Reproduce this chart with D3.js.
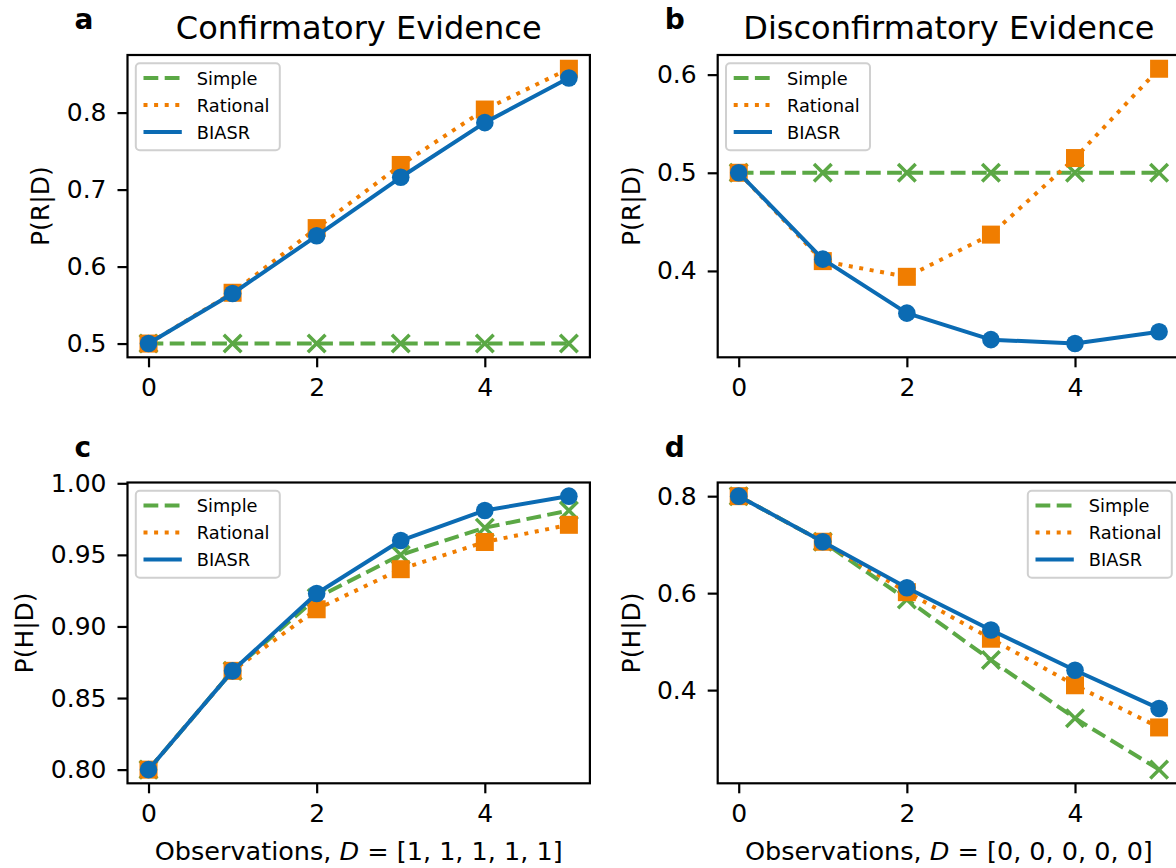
<!DOCTYPE html>
<html>
<head>
<meta charset="utf-8">
<script src="https://cdn.jsdelivr.net/npm/d3@7"></script>
<style>
  html, body { margin: 0; padding: 0; background: #fff; overflow: hidden; }
  svg { display: block; font-family: "DejaVu Sans", sans-serif; }
</style>
</head>
<body>
<svg id="chart" width="1176" height="868"></svg>
<script>
// ---------------- data ----------------
const observations = [0, 1, 2, 3, 4, 5];
const seriesNames = ["Simple", "Rational", "BIASR"];

const simpleA   = [0.500, 0.500, 0.500, 0.500, 0.500, 0.500];
const rationalA = [0.500, 0.566, 0.650, 0.732, 0.804, 0.857];
const biasrA    = [0.500, 0.565, 0.640, 0.716, 0.787, 0.845];

const simpleB   = [0.500, 0.500, 0.500, 0.500, 0.500, 0.500];
const rationalB = [0.500, 0.410, 0.394, 0.437, 0.515, 0.606];
const biasrB    = [0.500, 0.412, 0.357, 0.330, 0.326, 0.338];

const simpleC   = [0.800, 0.869, 0.920, 0.950, 0.969, 0.981];
const rationalC = [0.800, 0.869, 0.912, 0.940, 0.959, 0.971];
const biasrC    = [0.800, 0.869, 0.923, 0.960, 0.981, 0.991];

const simpleD   = [0.800, 0.706, 0.587, 0.462, 0.342, 0.236];
const rationalD = [0.800, 0.706, 0.602, 0.506, 0.410, 0.323];
const biasrD    = [0.800, 0.706, 0.611, 0.524, 0.441, 0.362];

const xTickValues = [0, 2, 4];
const yTicksA = [0.5, 0.6, 0.7, 0.8];
const yTicksB = [0.4, 0.5, 0.6];
const yTicksC = [0.80, 0.85, 0.90, 0.95, 1.00];
const yTicksD = [0.4, 0.6, 0.8];

const titles = ["Confirmatory Evidence", "Disconfirmatory Evidence"];
const letters = ["a", "b", "c", "d"];
const yLabels = ["P(R|D)", "P(R|D)", "P(H|D)", "P(H|D)"];
const xLabelSeqs = ["[1, 1, 1, 1, 1]", "[0, 0, 0, 0, 0]"];

// ---------------- style ----------------
const colors = { Simple: "#5ba845", Rational: "#f07d00", BIASR: "#0b6bb3" };
const dashes = { Simple: "14.8,6.4", Rational: "4,6.6", BIASR: null };
const markers = { Simple: "x", Rational: "square", BIASR: "circle" };

const svg = d3.select("#chart");

const colLeft = [127.5, 717.7];
const axW = 462.4;
const rowTop = [55, 482.5];
const rowH = [302.3, 300.8];

const panels = [
  { data: [simpleA, rationalA, biasrA], ticks: yTicksA, fmt: ".1f", col: 0, row: 0, legend: "left", ylabOff: 78.7 },
  { data: [simpleB, rationalB, biasrB], ticks: yTicksB, fmt: ".1f", col: 1, row: 0, legend: "left", ylabOff: 77.7 },
  { data: [simpleC, rationalC, biasrC], ticks: yTicksC, fmt: ".2f", col: 0, row: 1, legend: "left", ylabOff: 94.7 },
  { data: [simpleD, rationalD, biasrD], ticks: yTicksD, fmt: ".1f", col: 1, row: 1, legend: "right", ylabOff: 77.7 }
];

panels.forEach((p, i) => {
  const L = colLeft[p.col], T = rowTop[p.row], H = rowH[p.row];
  const g = svg.append("g").attr("transform", `translate(${L},${T})`);

  const x = d3.scaleLinear().domain([-0.25, 5.25]).range([0, axW]);
  const all = p.data.flat();
  const mn = d3.min(all), mx = d3.max(all), r = mx - mn;
  const y = d3.scaleLinear().domain([mn - 0.05 * r, mx + 0.05 * r]).range([H, 0]);

  const clipId = "clip" + i;
  g.append("clipPath").attr("id", clipId).append("rect")
    .attr("x", 0).attr("y", 0).attr("width", axW).attr("height", H);

  const plot = g.append("g").attr("clip-path", `url(#${clipId})`);

  p.data.forEach((vals, si) => {
    const name = seriesNames[si];
    const pts = observations.map((o, k) => [x(o), y(vals[k])]);
    const line = d3.line();
    plot.append("path")
      .attr("d", line(pts))
      .attr("fill", "none")
      .attr("stroke", colors[name])
      .attr("stroke-width", 4)
      .attr("stroke-linecap", name === "BIASR" ? "square" : "butt")
      .attr("stroke-linejoin", "round")
      .attr("stroke-dasharray", dashes[name]);
    const mg = plot.append("g");
    pts.forEach(([px, py]) => {
      if (markers[name] === "circle") {
        mg.append("circle").attr("cx", px).attr("cy", py).attr("r", 8.8).attr("fill", colors[name]);
      } else if (markers[name] === "square") {
        mg.append("rect").attr("x", px - 9).attr("y", py - 9).attr("width", 18).attr("height", 18)
          .attr("fill", colors[name]);
      } else {
        const s = 8.8;
        mg.append("path")
          .attr("d", `M${px - s},${py - s}L${px + s},${py + s}M${px - s},${py + s}L${px + s},${py - s}`)
          .attr("stroke", colors[name]).attr("stroke-width", 3.5).attr("fill", "none");
      }
    });
  });

  // axes
  const xAxis = d3.axisBottom(x).tickValues(xTickValues).tickFormat(d3.format("d")).tickSize(10).tickPadding(11.3);
  const yAxis = d3.axisLeft(y).tickValues(p.ticks).tickFormat(d3.format(p.fmt)).tickSize(10).tickPadding(11);

  const gx = g.append("g").attr("transform", `translate(0,${H})`).call(xAxis);
  const gy = g.append("g").call(yAxis);
  [gx, gy].forEach(ga => {
    ga.select(".domain").remove();
    ga.selectAll(".tick line").attr("stroke", "#000").attr("stroke-width", 2.2);
    ga.selectAll(".tick text").attr("fill", "#000").style("font-size", "25px").style("font-family", "DejaVu Sans");
  });

  // spines
  g.append("rect").attr("x", 0).attr("y", 0).attr("width", axW).attr("height", H)
    .attr("fill", "none").attr("stroke", "#000").attr("stroke-width", 2.2);

  // y label
  g.append("text")
    .attr("transform", `translate(${-p.ylabOff},${H / 2}) rotate(-90)`)
    .attr("text-anchor", "middle")
    .style("font-size", "25px")
    .text(yLabels[i]);

  // legend
  const lw = 144, lh = 87;
  const lx = p.legend === "left" ? 8.3 : axW - 8.3 - lw;
  const ly = 8.3;
  const lg = g.append("g").attr("transform", `translate(${lx},${ly})`);
  lg.append("rect").attr("width", lw).attr("height", lh).attr("rx", 4).attr("ry", 4)
    .attr("fill", "rgba(255,255,255,0.8)").attr("stroke", "#d0d0d0").attr("stroke-width", 2);
  seriesNames.forEach((name, k) => {
    const cy = 14.7 + k * 27;
    lg.append("line").attr("x1", 7.7).attr("x2", 46).attr("y1", cy).attr("y2", cy)
      .attr("stroke", colors[name]).attr("stroke-width", 4)
      .attr("stroke-dasharray", dashes[name]);
    lg.append("text").attr("x", 61).attr("y", cy + 6.6)
      .style("font-size", "17.8px").text(name);
  });

  // panel letter
  svg.append("text")
    .attr("x", L - 53).attr("y", T - 26)
    .style("font-size", "28px").style("font-weight", "bold")
    .text(letters[i]);

  // title
  if (p.row === 0) {
    svg.append("text").attr("x", L + axW / 2).attr("y", 39)
      .attr("text-anchor", "middle").style("font-size", "32px")
      .text(titles[p.col]);
  }

  // x label
  if (p.row === 1) {
    const t = svg.append("text").attr("x", L + axW / 2).attr("y", 860)
      .attr("text-anchor", "middle").style("font-size", "25.5px");
    t.append("tspan").text("Observations, ");
    t.append("tspan").style("font-style", "italic").text("D");
    t.append("tspan").text(" = " + xLabelSeqs[p.col]);
  }
});
</script>
</body>
</html>
